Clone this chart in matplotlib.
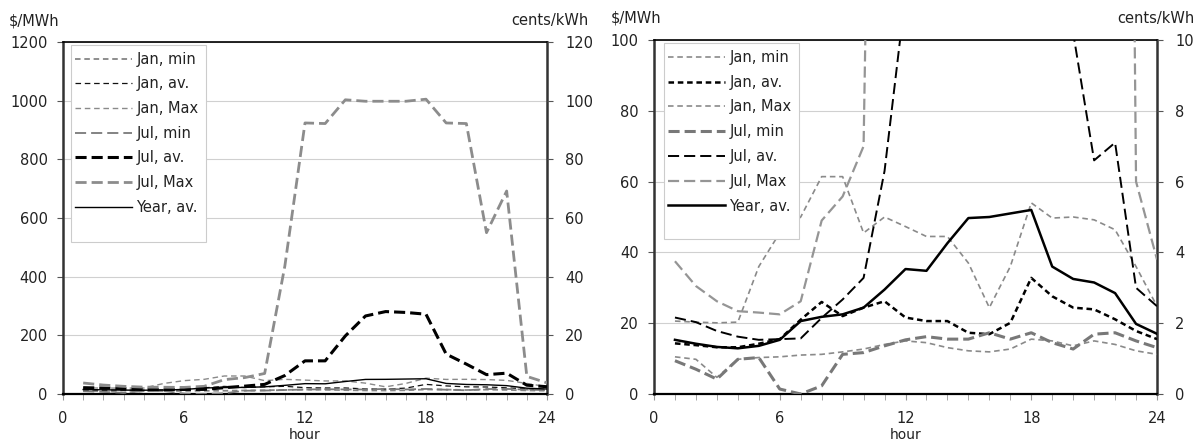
import numpy as np
import matplotlib
matplotlib.use('Agg')
import matplotlib.pyplot as plt
from matplotlib.patches import Rectangle
from matplotlib.ticker import MultipleLocator

plt.rcParams['font.family'] = 'DejaVu Sans'
plt.rcParams['lines.scale_dashes'] = False

hours = np.arange(1, 25)

# $/MWh, hourly values
jan_min = [10.5, 9.8, 4.7, 9.8, 10.3, 10.5, 11.0, 11.2, 11.9, 12.7, 14.0, 15.0,
           14.5, 13.1, 12.2, 11.9, 12.7, 15.5, 15.0, 13.6, 15.0, 14.0, 12.2, 11.2]
jan_av = [14.3, 13.8, 13.2, 13.2, 14.2, 15.5, 21.0, 26.0, 22.0, 24.4, 26.2, 21.6,
          20.6, 20.6, 17.3, 16.9, 20.1, 32.8, 27.6, 24.4, 23.9, 21.1, 17.8, 15.5]
jan_max = [20.6, 20.3, 20.1, 20.3, 36.0, 45.5, 50.0, 61.4, 61.4, 45.5, 50.0, 47.3,
           44.5, 44.5, 37.0, 24.4, 36.0, 54.0, 49.7, 50.0, 49.2, 46.4, 36.0, 24.8]
jul_min = [9.4, 7.0, 4.2, 9.8, 10.3, 1.4, 0.0, 2.3, 11.2, 11.7, 13.6, 15.3,
           16.2, 15.5, 15.5, 17.3, 15.5, 17.3, 14.5, 12.7, 16.9, 17.3, 15.0, 13.1]
jul_av = [21.6, 20.3, 17.8, 16.2, 15.3, 15.5, 15.7, 21.5, 26.7, 32.8, 63.0, 113.0,
          113.0, 198.0, 266.0, 281.0, 278.0, 272.0, 136.0, 102.0, 66.0, 71.0, 30.0, 24.8]
jul_max = [37.5, 30.5, 26.2, 23.4, 23.0, 22.5, 26.2, 49.0, 55.8, 70.0, 436.0, 924.0,
           922.0, 1003.0, 998.0, 998.0, 998.0, 1005.0, 924.0, 922.0, 550.0, 692.0, 60.0, 38.0]
year_av = [15.3, 14.2, 13.3, 12.9, 13.6, 15.3, 20.6, 21.8, 22.5, 24.4, 29.5, 35.3,
           34.8, 42.6, 49.7, 50.0, 51.0, 52.0, 36.0, 32.5, 31.5, 28.5, 19.8, 17.0]

labels = ['Jan, min', 'Jan, av.', 'Jan, Max', 'Jul, min', 'Jul, av.', 'Jul, Max', 'Year, av.']
series = [jan_min, jan_av, jan_max, jul_min, jul_av, jul_max, year_av]

short = (0, (4, 2.7))
long_ = (0, (8, 3.6))

# (color, linestyle, linewidth) per series for each panel
styles_left = [('#858585', short, 1.3), ('#111111', short, 0.9), ('#8a8a8a', short, 1.0),
               ('#7a7a7a', long_, 1.3), ('#000000', long_, 2.2), ('#8c8c8c', long_, 2.0),
               ('#000000', '-', 1.0)]
styles_right = [('#8a8a8a', short, 1.2), ('#000000', short, 1.8), ('#8a8a8a', short, 1.2),
                ('#787878', long_, 2.2), ('#000000', long_, 1.4), ('#959595', long_, 1.6),
                ('#000000', '-', 1.8)]

fs = 10.5
txt = '#222222'

fig = plt.figure(figsize=(11.94, 4.42), dpi=100)
ax1 = fig.add_axes([63 / 1194, 48 / 442, 484 / 1194, 352 / 442])
ax2 = fig.add_axes([654 / 1194, 48 / 442, 503 / 1194, 354 / 442])


def setup(ax, ymax, ystep, styles, box, anchor, lspace):
    for vals, lab, (c, ls, lw) in zip(series, labels, styles):
        ax.plot(hours, vals, color=c, linestyle=ls, linewidth=lw, label=lab, zorder=3)
    ax.set_xlim(0, 24)
    ax.set_ylim(0, ymax)
    ax.xaxis.set_major_locator(MultipleLocator(6))
    ax.xaxis.set_minor_locator(MultipleLocator(1))
    ax.yaxis.set_major_locator(MultipleLocator(ystep))
    ax.grid(axis='y', color='#d0d0d0', linewidth=0.8, zorder=0)
    ax.set_axisbelow(True)
    ax.tick_params(axis='x', which='both', direction='out', length=4, color='#999999',
                   labelsize=fs, labelcolor=txt, pad=8)
    ax.tick_params(axis='y', direction='out', length=4, color='#555555',
                   labelsize=fs, labelcolor=txt, pad=7)
    ax.set_xlabel('hour', fontsize=10, color=txt, labelpad=1.5)
    ax.spines['left'].set_linewidth(1.8)
    ax.spines['left'].set_color('#333333')
    ax.spines['right'].set_linewidth(1.8)
    ax.spines['right'].set_color('#333333')
    ax.spines['top'].set_linewidth(1.2)
    ax.spines['bottom'].set_linewidth(1.6)

    twin = ax.twinx()
    twin.set_ylim(0, ymax / 10)
    twin.yaxis.set_major_locator(MultipleLocator(ystep / 10))
    twin.tick_params(axis='y', direction='out', length=4, color='#555555',
                     labelsize=fs, labelcolor=txt, pad=9)
    for s in twin.spines.values():
        s.set_visible(False)

    ax.add_patch(Rectangle((box[0], box[1]), box[2], box[3], transform=ax.transAxes,
                           facecolor='white', edgecolor='#cccccc', linewidth=0.8,
                           zorder=5))
    leg = ax.legend(loc='upper left', bbox_to_anchor=anchor, frameon=False,
                    fontsize=fs, borderpad=0, borderaxespad=0, handlelength=3.9,
                    handletextpad=0.3, labelspacing=lspace)
    leg.set_zorder(6)
    for t in leg.get_texts():
        t.set_color(txt)
    return twin


setup(ax1, 1200, 200, styles_left, (0.016, 0.432, 0.28, 0.559), (0.0248, 0.972), 0.66)
setup(ax2, 100, 20, styles_right, (0.020, 0.438, 0.268, 0.554), (0.0278, 0.972), 0.67)

fig.text(9 / 1194, 1 - 21 / 442, '$/MWh', fontsize=fs, color=txt, va='center', ha='left')
fig.text(588 / 1194, 1 - 21 / 442, 'cents/kWh', fontsize=fs, color=txt, va='center', ha='right')
fig.text(611 / 1194, 1 - 18 / 442, '$/MWh', fontsize=fs, color=txt, va='center', ha='left')
fig.text(1194 / 1194, 1 - 18 / 442, 'cents/kWh', fontsize=fs, color=txt, va='center', ha='right')

fig.savefig('out.png', dpi=100)
